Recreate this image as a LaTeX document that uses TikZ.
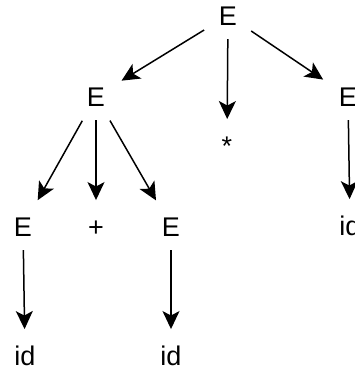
\documentclass[tikz,border=0pt]{standalone}
\usepackage{fontspec}
\setmainfont{Liberation Sans}
\usetikzlibrary{arrows.meta}
\begin{document}
\begin{tikzpicture}[x=1pt,y=-1pt,
  sym/.style={circle, inner sep=0pt, outer sep=0pt, minimum size=30pt, text height=19.3pt, text depth=0pt, anchor=base, font=\fontsize{27}{32}\selectfont},
  arr/.style={line width=1.5pt, -{Stealth[length=18pt,width=17pt,inset=4.5pt]}},
  vert/.style={arr, shorten <=8.7pt, shorten >=11.3pt},
  diag/.style={arr, shorten <=13pt, shorten >=15pt}]
\useasboundingbox (0,0) rectangle (355,370);
\node[sym] (e0) at (228,25) {E};
\node[sym] (e1) at (96,106) {E};
\node[sym] (st) at (227,155) {*};
\node[sym] (e2) at (348,106) {E};
\node[sym] (ea) at (23,236) {E};
\node[sym] (pl) at (96,236) {+};
\node[sym] (eb) at (171,236) {E};
\node[sym] (idc) at (350,235) {id};
\node[sym] (ida) at (25,365) {id};
\node[sym] (idb) at (171,365) {id};
\draw[diag] (e0) -- (e1);
\draw[vert] (e0) -- (st);
\draw[diag] (e0) -- (e2);
\draw[diag] (e1) -- (ea);
\draw[vert] (e1) -- (pl);
\draw[diag] (e1) -- (eb);
\draw[vert] (e2) -- (idc);
\draw[vert] (ea) -- (ida);
\draw[vert] (eb) -- (idb);
\end{tikzpicture}
\end{document}
